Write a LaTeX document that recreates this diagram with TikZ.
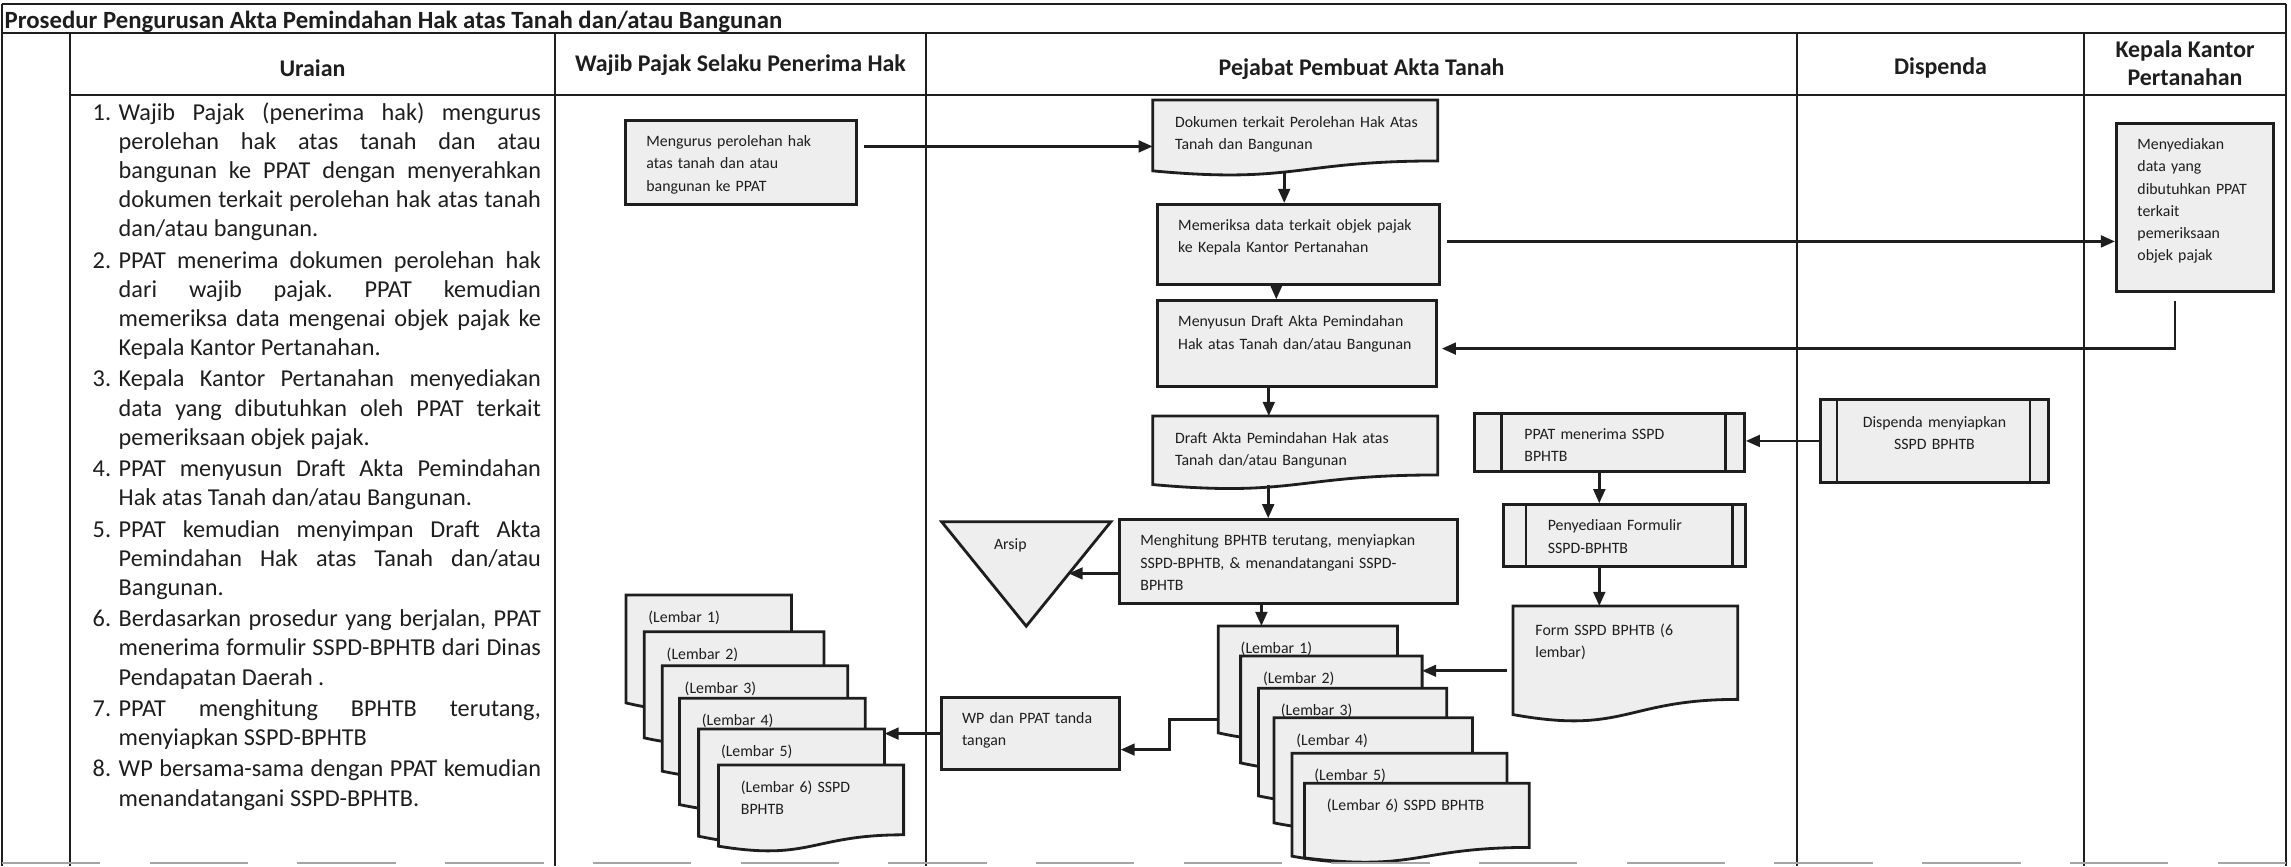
\documentclass[tikz,border=0pt]{standalone}
\usepackage{fontspec}
\setmainfont{Carlito}
\usetikzlibrary{positioning, arrows.meta, calc, backgrounds}

\definecolor{ink}{HTML}{1E1E1E}
\definecolor{boxfill}{HTML}{EEEEEE}
\newcommand{\boxfont}{\fontsize{4.5}{6.34}\selectfont}
\newcommand{\headfont}{\fontsize{6.8}{7.9}\selectfont\bfseries}
\newcommand{\listfont}{\fontsize{6.9}{8.3}\selectfont}
\newcommand{\uitem}[2]{\hangindent=0.26cm\hangafter=1\noindent\makebox[0.26cm][l]{#1.}#2\par}
\newcommand{\docshape}[1]{%
  \filldraw[boxline, fill=boxfill] (#1.south west) -- (#1.north west) -- (#1.north east)
    -- ($(#1.north east)!0.86!(#1.south east)$)
    .. controls ($(#1.north)!0.86!(#1.south)$) and ($(#1.north)!1.187!(#1.south)$) .. (#1.south west) -- cycle;}

\tikzset{
  lane/.style={draw=ink, line width=0.45pt},
  boxline/.style={draw=ink, line width=0.8pt},
  box/.style={boxline, fill=boxfill, anchor=north west, inner xsep=0.21cm, inner ysep=0pt,
    text height=0.26cm, align=left, font=\boxfont, text=ink},
  doc/.style={box, draw=none, fill=none},
  dims/.style 2 args={text width=#1, text depth=#2},
  flow/.style={draw=ink, line width=0.8pt, -{Triangle[length=4pt,width=3.3pt]}},
  head/.style={font=\headfont, text=ink, inner sep=0pt, anchor=base, align=center},
}

\begin{document}
\begin{tikzpicture}[x=0.01cm, y=-0.01cm]
\useasboundingbox (0,0) rectangle (2291,866);

\draw[lane] (2,4) -- (2286,4) (2,33) -- (2286,33) (70,95) -- (2286,95);
\draw[lane] (2,4) -- (2,866) (2286,4) -- (2286,866);
\foreach \x in {70,555,926,1797,2084} \draw[lane] (\x,33) -- (\x,866);
\draw[lane, draw=ink!40, dash pattern=on 28pt off 14pt] (2,863) -- (2286,863);

\node[head, anchor=base west, font=\fontsize{7.05}{8}\selectfont\bfseries] (judul) at (4,28)
  {Prosedur Pengurusan Akta Pemindahan Hak atas Tanah dan/atau Bangunan};
\node[head] (h-uraian) at (312.5,76) {Uraian};
\node[head] (h-wp) at (740.5,71) {Wajib Pajak Selaku Penerima Hak};
\node[head] (h-ppat) at (1361.5,75) {Pejabat Pembuat Akta Tanah};
\node[head] (h-dispenda) at (1940.5,74) {Dispenda};
\node[head] (h-bpn) at (2185,85.2) {Kepala Kantor\\Pertanahan};

\node[anchor=base west, inner sep=0pt, text width=4.48cm, align=justify, font=\listfont, text=ink] (uraian) at (92,120) {%
  \frenchspacing\setlength{\parskip}{0.6pt}\hyphenpenalty=10000\exhyphenpenalty=10000
  \uitem{1}{Wajib Pajak (penerima hak) mengurus\linebreak perolehan hak atas tanah dan atau\linebreak bangunan ke PPAT dengan menyerahkan\linebreak dokumen terkait perolehan hak atas tanah\linebreak dan/atau bangunan.}
  \uitem{2}{PPAT menerima dokumen perolehan hak\linebreak dari wajib pajak. PPAT kemudian\linebreak memeriksa data mengenai objek pajak ke\linebreak Kepala Kantor Pertanahan.}
  \uitem{3}{Kepala Kantor Pertanahan menyediakan\linebreak data yang dibutuhkan oleh PPAT terkait\linebreak pemeriksaan objek pajak.}
  \uitem{4}{PPAT menyusun Draft Akta Pemindahan\linebreak Hak atas Tanah dan/atau Bangunan.}
  \uitem{5}{PPAT kemudian menyimpan Draft Akta\linebreak Pemindahan Hak atas Tanah dan/atau\linebreak Bangunan.}
  \uitem{6}{Berdasarkan prosedur yang berjalan, PPAT\linebreak menerima formulir SSPD-BPHTB dari Dinas\linebreak Pendapatan Daerah .}
  \uitem{7}{PPAT menghitung BPHTB terutang,\linebreak menyiapkan SSPD-BPHTB}
  \uitem{8}{WP bersama-sama dengan PPAT kemudian\linebreak menandatangani SSPD-BPHTB.}
};

\node[box, dims={1.89cm}{0.58cm}] (urus) at (624,119) {Mengurus perolehan hak\\atas tanah dan atau\\bangunan ke PPAT};
\node[doc, dims={2.40cm}{0.42cm}] (dok) at (1152.7,100) {\mbox{Dokumen terkait Perolehan Hak Atas}\\Tanah dan Bangunan};
\node[box, dims={2.40cm}{0.54cm}] (periksa) at (1155.8,203) {Memeriksa data terkait objek pajak\\ke Kepala Kantor Pertanahan};
\node[box, dims={2.37cm}{0.597cm}] (susun) at (1155.8,299.3) {Menyusun Draft Akta Pemindahan\\Hak atas Tanah dan/atau Bangunan};
\node[doc, dims={2.40cm}{0.397cm}] (draft) at (1152.7,416) {Draft Akta Pemindahan Hak atas\\Tanah dan/atau Bangunan};
\node[box, dims={2.958cm}{0.574cm}] (hitung) at (1118,518.3) {Menghitung BPHTB terutang, menyiapkan\\SSPD-BPHTB, \& menandatangani SSPD-\\BPHTB};
\node[doc, inner xsep=0.51cm, dims={0.644cm}{0.756cm}] (arsip) at (941.6,521.7) {Arsip};
\node[box, dims={1.36cm}{0.463cm}] (ttd) at (939.7,696) {WP dan PPAT tanda\\tangan};
\node[box, dims={1.15cm}{1.42cm}] (sedia) at (2115,122) {Menyediakan\\data yang\\\mbox{dibutuhkan PPAT}\\terkait\\pemeriksaan\\objek pajak};
\node[box, align=center, text height=0.28cm, dims={1.86cm}{0.55cm}] (disp) at (1819,398) {Dispenda menyiapkan\\SSPD BPHTB};
\node[box, inner xsep=0.502cm, dims={1.696cm}{0.323cm}] (terima) at (1472.8,411.7) {PPAT menerima SSPD\\BPHTB};
\node[box, inner xsep=0.446cm, dims={1.528cm}{0.357cm}] (formulir) at (1501.8,503.3) {Penyediaan Formulir\\SSPD-BPHTB};
\node[doc, text height=0.28cm, dims={1.798cm}{0.777cm}] (form) at (1513,606) {Form SSPD BPHTB (6\\lembar)};

\foreach \n/\x/\y/\w/\h/\lbl in {
    l1/626/595/1.626/1.05/{(Lembar 1)}, l2/644.3/631.7/1.767/1.033/{(Lembar 2)},
    l3/662.3/665.7/1.825/1.026/{(Lembar 3)}, l4/679.5/698.3/1.829/1.034/{(Lembar 4)},
    l5/698.6/729/1.83/1.043/{(Lembar 5)}, l6/718.5/765/1.822/0.783/{(Lembar 6) SSPD\\BPHTB},
    r1/1218.3/626/1.763/1.04/{(Lembar 1)}, r2/1240.6/656/1.786/1.04/{(Lembar 2)},
    r3/1258.5/688.3/1.853/1.047/{(Lembar 3)}, r4/1274/717.7/1.956/1.023/{(Lembar 4)},
    r5/1292/753.3/2.12/1.0/{(Lembar 5)}, r6/1304.5/783.3/2.218/0.717/{(Lembar 6) SSPD BPHTB}} {
  \pgfmathsetmacro\tw{\w-0.42}
  \pgfmathsetmacro\td{\h-0.26}
  \node[doc, dims={\tw cm}{\td cm}] (\n) at (\x,\y) {\lbl};
}

\begin{scope}[on background layer]
  \foreach \n in {dok,draft,form,l1,l2,l3,l4,l5,l6,r1,r2,r3,r4,r5,r6} {\docshape{\n}}
  \filldraw[boxline, fill=boxfill] (arsip.north west) -- (arsip.north east) -- (arsip.south) -- cycle;
\end{scope}

\foreach \n/\a/\b in {terima/29/20, formulir/24.2/14.3, disp/18/20} {
  \draw[boxline] ([shift={(\a,0)}]\n.north west) -- ([shift={(\a,0)}]\n.south west);
  \draw[boxline] ([shift={(-\b,0)}]\n.north east) -- ([shift={(-\b,0)}]\n.south east);
}

\coordinate (arsip-edge) at ($(arsip.north east)!0.5!(arsip.south)$);
\draw[flow] ([shift={(6,-16)}]urus.east) coordinate (a1) -- (a1 -| dok.west);
\draw[flow] ([shift={(-11,0)}]dok.south) coordinate (a2) -- (a2 |- periksa.north);
\draw[flow] ([shift={(6,-3)}]periksa.east) coordinate (a3) -- (a3 -| sedia.west);
\draw[flow] ([shift={(-22,0)}]periksa.south) coordinate (a4) -- (a4 |- susun.north);
\draw[flow] ([shift={(-20,8)}]sedia.south) |- ([shift={(4,5)}]susun.east);
\draw[flow] ([shift={(-28,0)}]susun.south) coordinate (a5) -- (a5 |- draft.north);
\draw[flow] ([shift={(-27,0)}]draft.south) coordinate (a6) -- (a6 |- hitung.north);
\draw[flow] ([shift={(0,12)}]hitung.west) coordinate (a7) -- (a7 -| arsip-edge);
\draw[flow] ([shift={(-27,0)}]hitung.south) coordinate (a8) -- (a8 |- r1.north);
\draw[flow] (disp.west) -- (disp.west -| terima.east);
\draw[flow] ([shift={(-10,0)}]terima.south) coordinate (a9) -- (a9 |- formulir.north);
\draw[flow] ([shift={(-25,0)}]formulir.south) coordinate (a10) -- (a10 |- form.north);
\draw[flow] ([shift={(-6,10.5)}]form.west) coordinate (a11) -- (a11 -| r2.east);
\draw[flow] ([shift={(0,40)}]r1.west) -- ++(-49,0) |- ([shift={(0,16)}]ttd.east);
\draw[flow] (ttd.west) -- (ttd.west -| l5.east);
\end{tikzpicture}
\end{document}
